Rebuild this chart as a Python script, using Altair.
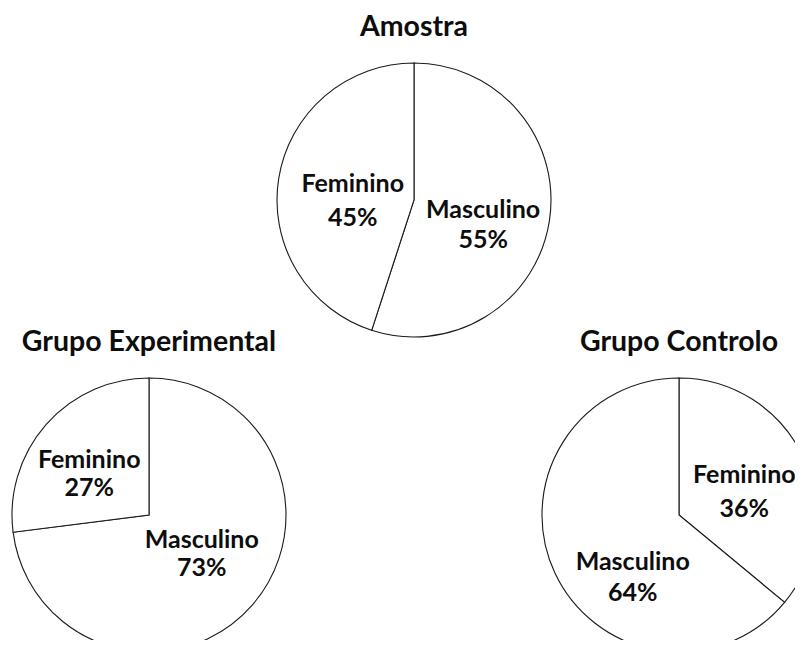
import altair as alt
import pandas as pd

# ---- data ----
groups = ["Amostra", "Grupo Experimental", "Grupo Controlo"]
amostra_cat = ["Masculino", "Feminino"]
amostra_pct = [55, 45]
exp_cat = ["Masculino", "Feminino"]
exp_pct = [73, 27]
ctrl_cat = ["Feminino", "Masculino"]
ctrl_pct = [36, 64]

rows = []
for g, cats, vals in zip(groups, [amostra_cat, exp_cat, ctrl_cat],
                         [amostra_pct, exp_pct, ctrl_pct]):
    for i, (c, v) in enumerate(zip(cats, vals)):
        rows.append({"grupo": g, "sexo": c, "pct": v, "ordem": i})
df = pd.DataFrame(rows)

# ---- layout / style ----
W, H = 787, 632
R = 137
centers = {
    "Amostra": (406, 192),
    "Grupo Experimental": (141, 507),
    "Grupo Controlo": (671, 507),
}
label_layout = {
    ("Amostra", "Feminino"): dict(r=60, dx=-2, dy=-7, lh=34),
    ("Amostra", "Masculino"): dict(r=70, dx=0, dy=-1, lh=30),
    ("Grupo Experimental", "Feminino"): dict(r=73, dx=-5, dy=-7, lh=28),
    ("Grupo Experimental", "Masculino"): dict(r=65, dx=4, dy=-18, lh=28),
    ("Grupo Controlo", "Feminino"): dict(r=70, dx=2, dy=-10, lh=34),
    ("Grupo Controlo", "Masculino"): dict(r=60, dx=8, dy=21, lh=31),
}
FONT = "Lato"
TXT = "#0d0d0d"
theta_scale = alt.Scale(domain=[0, 100])

layers = []
for g in groups:
    cx, cy = centers[g]
    base = alt.Chart(df).transform_filter(alt.datum.grupo == g)
    pie = base.mark_arc(radius=R, fill="white", stroke="#1a1a1a", strokeWidth=1.1).encode(
        theta=alt.Theta("pct:Q", stack=True, scale=theta_scale),
        order=alt.Order("ordem:Q", sort="ascending"),
        x=alt.value(cx),
        y=alt.value(cy),
    )
    layers.append(pie)

    stacked = base.transform_stack(
        stack="pct", groupby=["grupo"], as_=["p0", "p1"],
        sort=[alt.SortField("ordem", order="ascending")],
    ).transform_calculate(
        mid="(datum.p0 + datum.p1) / 2",
        rotulo="[datum.sexo, datum.pct + '%']",
    )
    for s in df[df.grupo == g].sexo:
        lay = label_layout[(g, s)]
        txt = stacked.transform_filter(alt.datum.sexo == s).mark_text(
            radius=lay["r"], dx=lay["dx"], dy=lay["dy"], lineHeight=lay["lh"],
            font=FONT, fontSize=25, fontWeight="bold", color=TXT,
            align="center", baseline="middle",
        ).encode(
            theta=alt.Theta("mid:Q", scale=theta_scale),
            x=alt.value(cx),
            y=alt.value(cy),
            text="rotulo:N",
        )
        layers.append(txt)

    title = alt.Chart(pd.DataFrame({"grupo": [g]})).mark_text(
        dy=-164, baseline="alphabetic", align="center",
        font=FONT, fontSize=28.5, fontWeight="bold", color=TXT,
    ).encode(text="grupo:N", x=alt.value(cx), y=alt.value(cy))
    layers.append(title)

chart = alt.layer(*layers).properties(
    width=W, height=H, padding=0, autosize="none"
).configure_view(stroke=None)

chart.save("out.html", embed_options={"renderer": "svg", "actions": False})
